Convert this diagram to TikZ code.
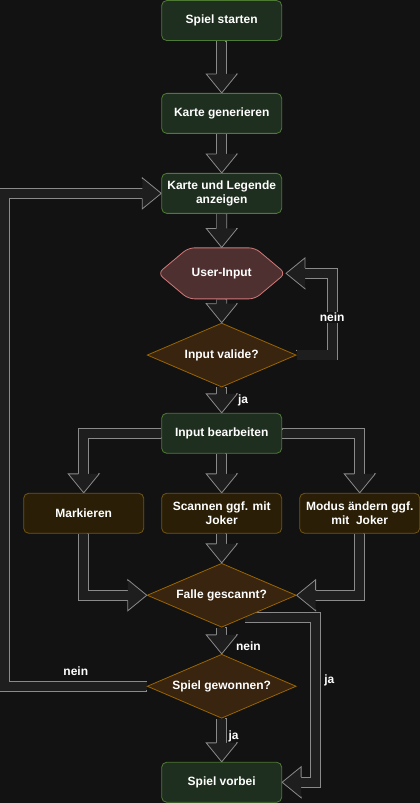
\documentclass[tikz,border=0pt]{standalone}
\usepackage{fontspec}
\setmainfont{Liberation Sans}
\usetikzlibrary{positioning,matrix,shapes.geometric,shapes.symbols,decorations.markings}
\definecolor{canvas}{HTML}{121212}
\definecolor{linkfill}{HTML}{1E1E1E}
\definecolor{linkdraw}{HTML}{8A8A8A}
\definecolor{stagefill}{HTML}{1F2F1F}
\definecolor{stagedraw}{HTML}{4E7A35}
\definecolor{entryfill}{HTML}{4F3030}
\definecolor{entrydraw}{HTML}{D07878}
\definecolor{checkfill}{HTML}{38240F}
\definecolor{checkdraw}{HTML}{9A6400}
\definecolor{actfill}{HTML}{2A1F06}
\definecolor{actdraw}{HTML}{6F5416}
\pgfdeclarelayer{bg}
\pgfdeclarelayer{links}
\pgfsetlayers{bg,links,main}
\tikzset{
  stage/.style={
      rectangle,
      rounded corners=5pt,
      minimum width=120pt,
      minimum height=40pt,
      inner sep=2pt,
      line width=0.8pt,
      draw=stagedraw,
      fill=stagefill,
      text=white,
      align=center
  },
  act/.style={stage, draw=actdraw, fill=actfill},
  check/.style={
      diamond,
      aspect=2.3,
      minimum width=149pt,
      minimum height=64pt,
      inner sep=0pt,
      line width=0.8pt,
      draw=checkdraw,
      fill=checkfill,
      text=white
  },
  entry/.style={
      signal,
      signal to=west and east,
      signal pointer angle=80,
      minimum width=126pt,
      minimum height=51pt,
      rounded corners=6pt,
      line width=0.8pt,
      draw=entrydraw,
      fill=entryfill,
      text=white
  },
  flex/.style={
      draw=linkdraw,
      double=linkfill,
      double distance=9.2pt,
      line width=0.8pt,
      line join=miter,
      shorten >=9pt,
      postaction={decorate},
      decoration={markings,
        mark=at position 0 with {\draw[linkdraw,line width=0.8pt] (0,-5.4) -- (0,5.4);},
        mark=at position 1 with {
          \fill[linkfill] (-19,15.5) -- (0,0) -- (-19,-15.5) -- cycle;
          \draw[linkdraw,line width=0.8pt,line join=miter] (-19,5.4) -- (-19,15.5) -- (0,0) -- (-19,-15.5) -- (-19,-5.4);}
      }
  },
  answer/.style={text=white, inner sep=1pt}
}
\begin{document}
\begin{tikzpicture}[x=1pt,y=-1pt,font=\bfseries\fontsize{12}{14.5}\selectfont]
    \useasboundingbox (0,0) rectangle (420,803);
    \begin{pgfonlayer}{bg}
      \fill[canvas] (0,0) rectangle (420,803);
    \end{pgfonlayer}
    \matrix[row sep={80pt,between origins},column sep={138pt,between origins}] at (221.7,401.4)
    {
      & \node[stage] (start) {Spiel starten}; & \\[12.8pt]
      & \node[stage] (map) {Karte generieren}; & \\
      & \node[stage] (show) {Karte und Legende\\anzeigen}; & \\
      & \node[entry] (input) {User-Input}; & \\[1.7pt]
      & \node[check] (valid) {Input valide?}; & \\[-1.8pt]
      & \node[stage] (handle) {Input bearbeiten}; & \\
      \node[act] (mark) {Markieren}; & \node[act] (scan) {Scannen ggf. mit\\Joker}; & \node[act] (mode) {Modus ändern ggf.\\mit\ \ Joker}; \\[2pt]
      & \node[check] (trap) {Falle gescannt?}; & \\[11pt]
      & \node[check] (won) {Spiel gewonnen?}; & \\[16pt]
      & \node[stage] (over) {Spiel vorbei}; & \\
    };
    \begin{pgfonlayer}{links}
      \draw[flex] (start) -- (map);
      \draw[flex] (map) -- (show);
      \draw[flex] (show) -- (input);
      \draw[flex] (input) -- (valid);
      \draw[flex] (valid) -- node[answer,pos=.5,right=15pt] {ja} (handle);
      \draw[flex] (valid.east) -- ++(35.5,0) |- node[answer,fill=canvas,pos=.23] {nein} (input.east);
      \draw[flex] (handle.west) -| (mark.north);
      \draw[flex] (handle) -- (scan);
      \draw[flex] (handle.east) -| (mode.north);
      \draw[flex] (mark.south) |- (trap.west);
      \draw[flex] (scan) -- (trap);
      \draw[flex] (mode.south) |- (trap.east);
      \draw[flex] (trap) -- node[answer,pos=.7,right=13pt] {nein} (won);
      \draw[flex] ([shift={(-14,6)}]trap.south east) -- ++(70.7,0) |- node[answer,pos=.19,right=7pt] {ja} (over.east);
      \draw[flex] (won.west) -- node[answer,above=9pt] {nein} ++(-142,0) |- (show.west);
      \draw[flex] (won) -- node[answer,pos=.4,right=5.5pt] {ja} (over);
    \end{pgfonlayer}
  \end{tikzpicture}
\end{document}
